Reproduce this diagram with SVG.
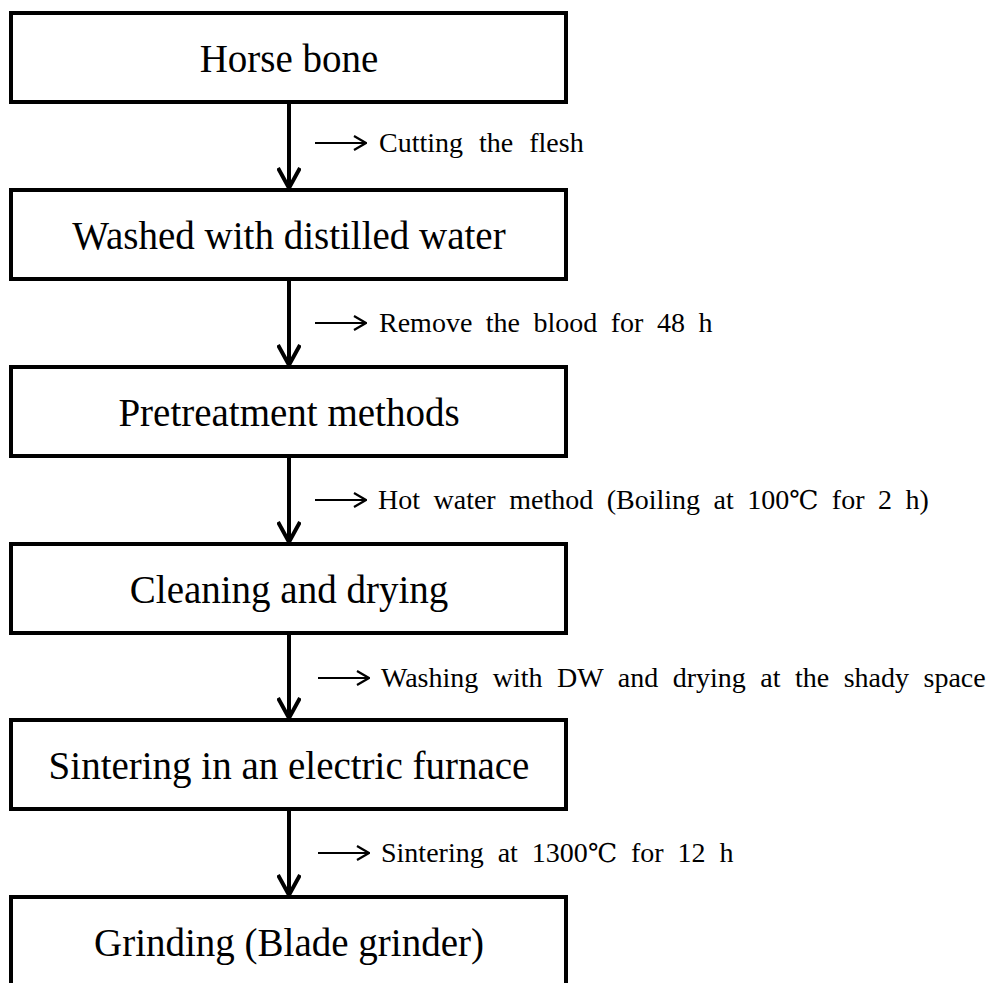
<svg xmlns="http://www.w3.org/2000/svg" width="990" height="983" viewBox="0 0 990 983">
<style>
.box{fill:#fff;stroke:#000;stroke-width:4}
.title{font-family:"Liberation Serif","Times New Roman","Noto Sans CJK SC",serif;font-size:39px;fill:#000;text-anchor:middle}
.lbl{font-family:"Liberation Serif","Times New Roman","Noto Sans CJK SC",serif;font-size:28px;fill:#000}
.deg{font-family:"DejaVu Serif","Noto Sans CJK SC",serif;font-size:26px}
.main{fill:none;stroke:#000;stroke-width:4}
.side{fill:none;stroke:#000;stroke-width:2.2}
</style>
<defs>
<marker id="headBig" viewBox="0 0 12 12" refX="11" refY="6" markerWidth="24" markerHeight="24" markerUnits="userSpaceOnUse" orient="auto">
<polyline points="1,0.5 11,6 1,11.5" fill="none" stroke="#000" stroke-width="2"/>
</marker>
<marker id="headSmall" viewBox="0 0 16 16" refX="15" refY="8" markerWidth="16" markerHeight="16" markerUnits="userSpaceOnUse" orient="auto">
<polyline points="3,1 15,8 3,15" fill="none" stroke="#000" stroke-width="2.2"/>
</marker>
</defs>
<rect width="990" height="983" fill="#fff"/>
<g id="n1"><rect class="box" x="11" y="13" width="555" height="89"/><text class="title" x="289" y="71.5">Horse bone</text></g>
<g id="n2"><rect class="box" x="11" y="190" width="555" height="89"/><text class="title" x="289" y="248.5">Washed with distilled water</text></g>
<g id="n3"><rect class="box" x="11" y="367" width="555" height="89"/><text class="title" x="289" y="425.5">Pretreatment methods</text></g>
<g id="n4"><rect class="box" x="11" y="544" width="555" height="89"/><text class="title" x="289" y="602.5">Cleaning and drying</text></g>
<g id="n5"><rect class="box" x="11" y="720" width="555" height="89"/><text class="title" x="289" y="778.5">Sintering in an electric furnace</text></g>
<g id="n6"><rect class="box" x="11" y="897" width="555" height="89"/><text class="title" x="289" y="955.5">Grinding (Blade grinder)</text></g>
<g id="connectors">
<line class="main" x1="289" y1="104" x2="289" y2="188" marker-end="url(#headBig)"/>
<line class="main" x1="289" y1="281" x2="289" y2="365" marker-end="url(#headBig)"/>
<line class="main" x1="289" y1="458" x2="289" y2="542" marker-end="url(#headBig)"/>
<line class="main" x1="289" y1="635" x2="289" y2="718" marker-end="url(#headBig)"/>
<line class="main" x1="289" y1="811" x2="289" y2="895" marker-end="url(#headBig)"/>
<line class="side" x1="315" y1="143" x2="366" y2="143" marker-end="url(#headSmall)"/>
<line class="side" x1="315" y1="323" x2="366" y2="323" marker-end="url(#headSmall)"/>
<line class="side" x1="315" y1="500" x2="366" y2="500" marker-end="url(#headSmall)"/>
<line class="side" x1="318" y1="678" x2="369" y2="678" marker-end="url(#headSmall)"/>
<line class="side" x1="318" y1="853" x2="369" y2="853" marker-end="url(#headSmall)"/>
</g>
<g id="labels">
<text class="lbl" x="379" y="152" word-spacing="9">Cutting the flesh</text>
<text class="lbl" x="379" y="332" word-spacing="6.5">Remove the blood for 48 h</text>
<text class="lbl" x="378" y="509" word-spacing="6.5">Hot water method (Boiling at 100<tspan class="deg">℃</tspan> for 2 h)</text>
<text class="lbl" x="381" y="687" word-spacing="7.5">Washing with DW and drying at the shady space</text>
<text class="lbl" x="381" y="862" word-spacing="7">Sintering at 1300<tspan class="deg">℃</tspan> for 12 h</text>
</g>
</svg>
